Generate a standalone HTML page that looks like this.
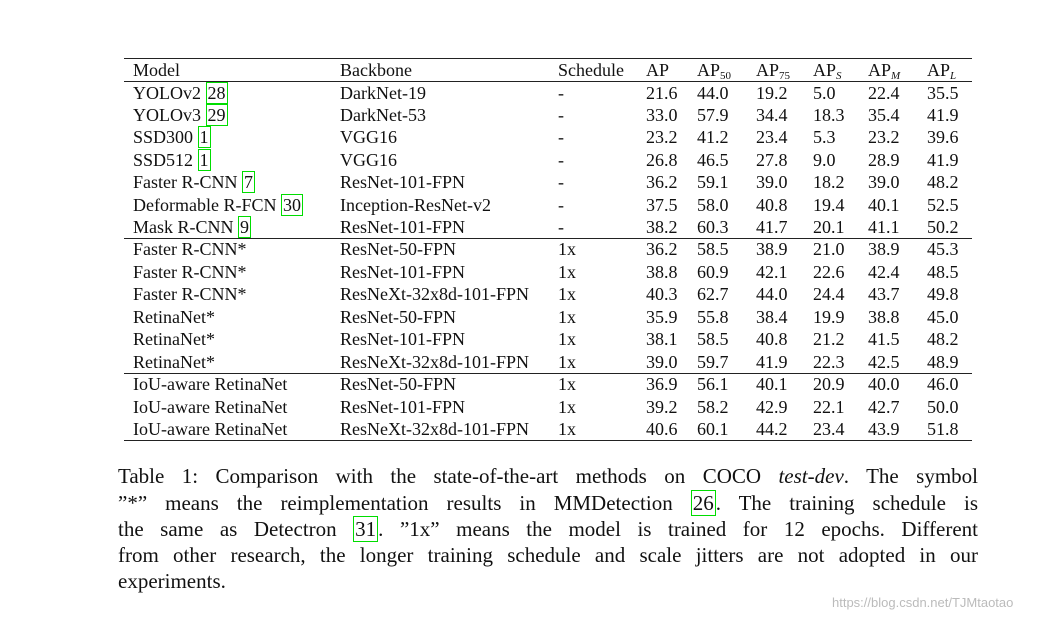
<!DOCTYPE html>
<html><head><meta charset="utf-8"><style>
body{margin:0;width:1055px;height:621px;background:#fff;overflow:hidden;position:relative;font-family:"Liberation Serif",serif;color:#111}
.c{position:absolute;font-size:18px;line-height:22px;white-space:nowrap}
.r{position:absolute;left:124px;width:848px;background:#222}
.cite{border:1.5px solid #0d0;padding:0 1px}
sub{font-size:11px;vertical-align:-3px;line-height:0}
.cap{position:absolute;left:118px;width:860px;font-size:21px;line-height:26px;text-align:justify;text-align-last:justify;white-space:nowrap}
</style></head><body>
<div class="r" style="top:58px;height:1.3px"></div>
<div class="r" style="top:81px;height:1px"></div>
<div class="r" style="top:238px;height:1px"></div>
<div class="r" style="top:373px;height:1px"></div>
<div class="r" style="top:440px;height:1.3px"></div>
<div id="tbl"></div>
<div class="cap" style="top:463px">Table 1: Comparison with the state-of-the-art methods on COCO <i>test-dev</i>. The symbol</div>
<div class="cap" style="top:490px">”*” means the reimplementation results in MMDetection <span class="cite">26</span>. The training schedule is</div>
<div class="cap" style="top:516px">the same as Detectron <span class="cite">31</span>. ”1x” means the model is trained for 12 epochs. Different</div>
<div class="cap" style="top:542px">from other research, the longer training schedule and scale jitters are not adopted in our</div>
<div class="cap" style="top:568px;text-align-last:left">experiments.</div>
<div style="position:absolute;left:832px;top:595px;font-family:'Liberation Sans',sans-serif;font-size:13px;color:#bbb">https://blog.csdn.net/TJMtaotao</div>
<script>
const colX=[133,340,558,646,697,756,813,868,927];
const headers=['Model','Backbone','Schedule','AP','AP<sub>50</sub>','AP<sub>75</sub>','AP<sub><i>S</i></sub>','AP<sub><i>M</i></sub>','AP<sub><i>L</i></sub>'];
const rowY=[92.5,115,137,160,182,204.5,227,249,272,294,317,339,362,384,407,429];
const models=['YOLOv2 <span class="cite">28</span>','YOLOv3 <span class="cite">29</span>','SSD300 <span class="cite">1</span>','SSD512 <span class="cite">1</span>','Faster R-CNN <span class="cite">7</span>','Deformable R-FCN <span class="cite">30</span>','Mask R-CNN <span class="cite">9</span>','Faster R-CNN*','Faster R-CNN*','Faster R-CNN*','RetinaNet*','RetinaNet*','RetinaNet*','IoU-aware RetinaNet','IoU-aware RetinaNet','IoU-aware RetinaNet'];
const backbones=['DarkNet-19','DarkNet-53','VGG16','VGG16','ResNet-101-FPN','Inception-ResNet-v2','ResNet-101-FPN','ResNet-50-FPN','ResNet-101-FPN','ResNeXt-32x8d-101-FPN','ResNet-50-FPN','ResNet-101-FPN','ResNeXt-32x8d-101-FPN','ResNet-50-FPN','ResNet-101-FPN','ResNeXt-32x8d-101-FPN'];
const schedules=['-','-','-','-','-','-','-','1x','1x','1x','1x','1x','1x','1x','1x','1x'];
const ap=['21.6','33.0','23.2','26.8','36.2','37.5','38.2','36.2','38.8','40.3','35.9','38.1','39.0','36.9','39.2','40.6'];
const ap50=['44.0','57.9','41.2','46.5','59.1','58.0','60.3','58.5','60.9','62.7','55.8','58.5','59.7','56.1','58.2','60.1'];
const ap75=['19.2','34.4','23.4','27.8','39.0','40.8','41.7','38.9','42.1','44.0','38.4','40.8','41.9','40.1','42.9','44.2'];
const aps=['5.0','18.3','5.3','9.0','18.2','19.4','20.1','21.0','22.6','24.4','19.9','21.2','22.3','20.9','22.1','23.4'];
const apm=['22.4','35.4','23.2','28.9','39.0','40.1','41.1','38.9','42.4','43.7','38.8','41.5','42.5','40.0','42.7','43.9'];
const apl=['35.5','41.9','39.6','41.9','48.2','52.5','50.2','45.3','48.5','49.8','45.0','48.2','48.9','46.0','50.0','51.8'];
const cols=[models,backbones,schedules,ap,ap50,ap75,aps,apm,apl];
const colNames=['model','backbone','schedule','ap','ap50','ap75','ap-s','ap-m','ap-l'];
const tbl=document.getElementById('tbl');
headers.forEach((h,j)=>{
  const d=document.createElement('div');d.className='c';
  d.style.left=colX[j]+'px';d.style.top=(70-11)+'px';d.innerHTML=h;
  
  
  tbl.appendChild(d);
});
rowY.forEach((y,i)=>{
  cols.forEach((col,j)=>{
    const d=document.createElement('div');d.className='c';
    d.style.left=colX[j]+'px';d.style.top=(y-11)+'px';d.innerHTML=col[i];
    
    
    tbl.appendChild(d);
  });
});
</script>
</body></html>
